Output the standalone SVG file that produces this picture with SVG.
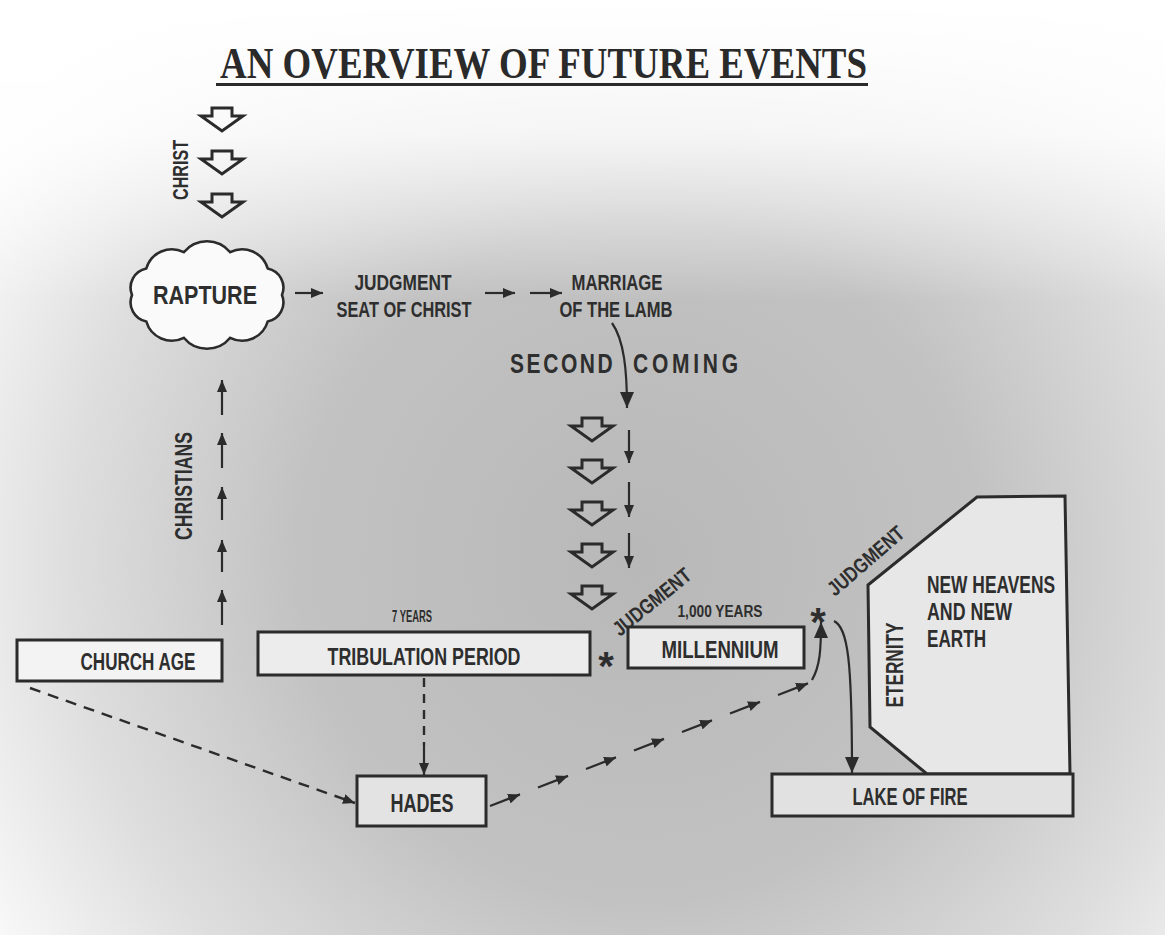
<svg xmlns="http://www.w3.org/2000/svg" width="1165" height="935" viewBox="0 0 1165 935">
<defs>
<radialGradient id="bg" gradientUnits="userSpaceOnUse" cx="640" cy="560" r="760">
<stop offset="0" stop-color="#b8b8b8"/>
<stop offset="0.45" stop-color="#c2c2c2"/>
<stop offset="0.75" stop-color="#dedede"/>
<stop offset="1" stop-color="#fbfbfb"/>
</radialGradient>
<linearGradient id="top" x1="0" y1="0" x2="0" y2="1" gradientUnits="objectBoundingBox">
<stop offset="0" stop-color="#ffffff" stop-opacity="1"/>
<stop offset="0.45" stop-color="#ffffff" stop-opacity="0.8"/>
<stop offset="1" stop-color="#ffffff" stop-opacity="0"/>
</linearGradient>
<marker id="ah" viewBox="0 0 12 10" refX="12" refY="5" markerWidth="12" markerHeight="10" markerUnits="userSpaceOnUse" orient="auto">
<path d="M0,0 L12,5 L0,10 Z" fill="#2b2b2b"/>
</marker>
<marker id="ahb" viewBox="0 0 16 14" refX="16" refY="7" markerWidth="16" markerHeight="14" markerUnits="userSpaceOnUse" orient="auto">
<path d="M0,0 L16,7 L0,14 Z" fill="#2b2b2b"/>
</marker>
<path id="open" d="M-10,0 H10 V8 H21 L0,23 L-21,8 H-10 Z"/>
</defs>
<style>
.t{font-family:"Liberation Sans",Arial,sans-serif;font-weight:bold;fill:#2e2e2e}
.box{stroke:#2b2b2b;stroke-width:3}
.ln{stroke:#2b2b2b;stroke-width:2.2;fill:none}
.dash{stroke:#2b2b2b;stroke-width:2.4;fill:none;stroke-dasharray:11 8}
.oa{fill:none;stroke:#2b2b2b;stroke-width:3;stroke-linejoin:miter}
</style>
<rect width="1165" height="935" fill="url(#bg)"/>
<rect width="1165" height="300" fill="url(#top)"/>

<g id="title">
<text x="220" y="78" font-family="'Liberation Serif',serif" font-weight="bold" font-size="45" fill="#2a2a2a" textLength="647" lengthAdjust="spacingAndGlyphs">AN OVERVIEW OF FUTURE EVENTS</text>
<rect x="216" y="83" width="652" height="3" fill="#2a2a2a"/>
</g>

<g id="christ">
<use href="#open" x="222" y="108" class="oa"/>
<use href="#open" x="222" y="151" class="oa"/>
<use href="#open" x="222" y="194" class="oa"/>
<text class="t" font-size="22" text-anchor="middle" transform="translate(188,170) rotate(-90)" textLength="60" lengthAdjust="spacingAndGlyphs">CHRIST</text>
</g>

<g id="rapture">
<path d="M282,295 A19.6,19.6 0 0 1 267.7,321.5 A26.6,26.6 0 0 1 230.2,337.8 A30,30 0 0 1 183.8,337.8 A26.6,26.6 0 0 1 146.3,321.5 A19.6,19.6 0 0 1 132,295 A19.6,19.6 0 0 1 146.3,268.5 A26.6,26.6 0 0 1 183.8,252.2 A30,30 0 0 1 230.2,252.2 A26.6,26.6 0 0 1 267.7,268.5 A19.6,19.6 0 0 1 282,295 Z" fill="#fafafa" stroke="#2b2b2b" stroke-width="2.6"/>
<text class="t" x="205" y="304" font-size="26" text-anchor="middle" textLength="104" lengthAdjust="spacingAndGlyphs">RAPTURE</text>
</g>

<g id="judgment-seat">
<text class="t" x="403" y="290" font-size="22" text-anchor="middle" textLength="97" lengthAdjust="spacingAndGlyphs">JUDGMENT</text>
<text class="t" x="404" y="317" font-size="22" text-anchor="middle" textLength="135" lengthAdjust="spacingAndGlyphs">SEAT OF CHRIST</text>
</g>

<g id="marriage">
<text class="t" x="617" y="290" font-size="22" text-anchor="middle" textLength="91" lengthAdjust="spacingAndGlyphs">MARRIAGE</text>
<text class="t" x="616" y="317" font-size="22" text-anchor="middle" textLength="113" lengthAdjust="spacingAndGlyphs">OF THE LAMB</text>
</g>

<g id="second-coming">
<g transform="translate(510,373) scale(0.75,1)"><text class="t" x="0" y="0" font-size="28" textLength="137" lengthAdjust="spacing">SECOND</text></g>
<g transform="translate(633,373) scale(0.75,1)"><text class="t" x="0" y="0" font-size="28" textLength="140" lengthAdjust="spacing">COMING</text></g>
<use href="#open" x="592" y="418" class="oa"/>
<use href="#open" x="592" y="460" class="oa"/>
<use href="#open" x="592" y="502" class="oa"/>
<use href="#open" x="592" y="544" class="oa"/>
<use href="#open" x="592" y="586" class="oa"/>
</g>

<g id="christians">
<text class="t" font-size="23" text-anchor="middle" transform="translate(192,486) rotate(-90)" textLength="108" lengthAdjust="spacingAndGlyphs">CHRISTIANS</text>
</g>

<g id="church-age">
<rect class="box" x="17" y="640" width="205" height="41" fill="#f3f3f3"/>
<text class="t" x="138" y="670" font-size="24" text-anchor="middle" textLength="115" lengthAdjust="spacingAndGlyphs">CHURCH AGE</text>
</g>

<g id="tribulation">
<text class="t" x="412" y="622" font-size="16" text-anchor="middle" textLength="40" lengthAdjust="spacingAndGlyphs">7 YEARS</text>
<rect class="box" x="258" y="632" width="332" height="43" fill="#ececec"/>
<text class="t" x="424" y="665" font-size="24" text-anchor="middle" textLength="193" lengthAdjust="spacingAndGlyphs">TRIBULATION PERIOD</text>
<text class="t" x="606" y="680" font-size="40" text-anchor="middle">*</text>
<text class="t" font-size="21" text-anchor="middle" transform="translate(652,602) rotate(-39)" y="7" textLength="94" lengthAdjust="spacingAndGlyphs">JUDGMENT</text>
</g>

<g id="millennium">
<text class="t" x="720" y="617" font-size="16" text-anchor="middle" textLength="85" lengthAdjust="spacingAndGlyphs">1,000 YEARS</text>
<rect class="box" x="628" y="627" width="176" height="41" fill="#eaeaea"/>
<text class="t" x="720" y="658" font-size="24" text-anchor="middle" textLength="117" lengthAdjust="spacingAndGlyphs">MILLENNIUM</text>
</g>

<g id="hades">
<rect class="box" x="357" y="776" width="129" height="50" fill="#e3e3e3"/>
<text class="t" x="422" y="812" font-size="25" text-anchor="middle" textLength="63" lengthAdjust="spacingAndGlyphs">HADES</text>
</g>

<g id="final-judgment">
<text class="t" x="818" y="636" font-size="40" text-anchor="middle">*</text>
<text class="t" font-size="21" text-anchor="middle" transform="translate(866,561) rotate(-41)" y="7" textLength="94" lengthAdjust="spacingAndGlyphs">JUDGMENT</text>
</g>

<g id="eternity">
<polygon class="box" points="868,585 977,497 1065,496 1070,774 927,774 870,727" fill="#e7e7e7"/>
<text class="t" font-size="23" text-anchor="middle" transform="translate(903,665) rotate(-90)" textLength="85" lengthAdjust="spacingAndGlyphs">ETERNITY</text>
<text class="t" x="927" y="593" font-size="24" textLength="128" lengthAdjust="spacingAndGlyphs">NEW HEAVENS</text>
<text class="t" x="927" y="620" font-size="24" textLength="85" lengthAdjust="spacingAndGlyphs">AND NEW</text>
<text class="t" x="927" y="647" font-size="24" textLength="59" lengthAdjust="spacingAndGlyphs">EARTH</text>
</g>

<g id="lake-of-fire">
<rect class="box" x="772" y="774" width="301" height="42" fill="#e1e1e1"/>
<text class="t" x="910" y="805" font-size="24" text-anchor="middle" textLength="115" lengthAdjust="spacingAndGlyphs">LAKE OF FIRE</text>
</g>

<g id="connectors">
<line class="ln" x1="295" y1="293" x2="323" y2="293" marker-end="url(#ah)"/>
<line class="ln" x1="485" y1="293" x2="515" y2="293" marker-end="url(#ah)"/>
<line class="ln" x1="530" y1="293" x2="562" y2="293" marker-end="url(#ah)"/>
<path class="ln" d="M612,323 C624,340 627,370 627,408" marker-end="url(#ahb)"/>
<line class="ln" x1="629" y1="430" x2="629" y2="463" marker-end="url(#ah)"/>
<line class="ln" x1="629" y1="482" x2="629" y2="517" marker-end="url(#ah)"/>
<line class="ln" x1="629" y1="533" x2="629" y2="568" marker-end="url(#ah)"/>
<line class="ln" x1="222" y1="415" x2="222" y2="380" marker-end="url(#ah)"/>
<line class="ln" x1="222" y1="468" x2="222" y2="433" marker-end="url(#ah)"/>
<line class="ln" x1="222" y1="520" x2="222" y2="487" marker-end="url(#ah)"/>
<line class="ln" x1="222" y1="572" x2="222" y2="540" marker-end="url(#ah)"/>
<line class="ln" x1="222" y1="625" x2="222" y2="590" marker-end="url(#ah)"/>
<line class="dash" x1="30" y1="688" x2="355" y2="803" marker-end="url(#ah)"/>
<line class="dash" x1="424" y1="678" x2="424" y2="745" style="stroke-dasharray:9 7"/>
<line class="ln" x1="424" y1="745" x2="424" y2="775" marker-end="url(#ah)"/>
<line class="ln" x1="490" y1="806" x2="520" y2="794.4" marker-end="url(#ah)"/>
<line class="ln" x1="538" y1="787.5" x2="568" y2="775.9" marker-end="url(#ah)"/>
<line class="ln" x1="586" y1="769" x2="616" y2="757.4" marker-end="url(#ah)"/>
<line class="ln" x1="634" y1="750.5" x2="664" y2="738.9" marker-end="url(#ah)"/>
<line class="ln" x1="682" y1="732" x2="712" y2="720.4" marker-end="url(#ah)"/>
<line class="ln" x1="730" y1="713.5" x2="760" y2="701.9" marker-end="url(#ah)"/>
<line class="ln" x1="778" y1="695" x2="808" y2="683.4" marker-end="url(#ah)"/>
<path class="ln" d="M812,680 C820,666 821,650 821,622" marker-end="url(#ahb)"/>
<path class="ln" d="M834,621 C848,628 852,660 852,773" marker-end="url(#ahb)"/>
</g>
</svg>
